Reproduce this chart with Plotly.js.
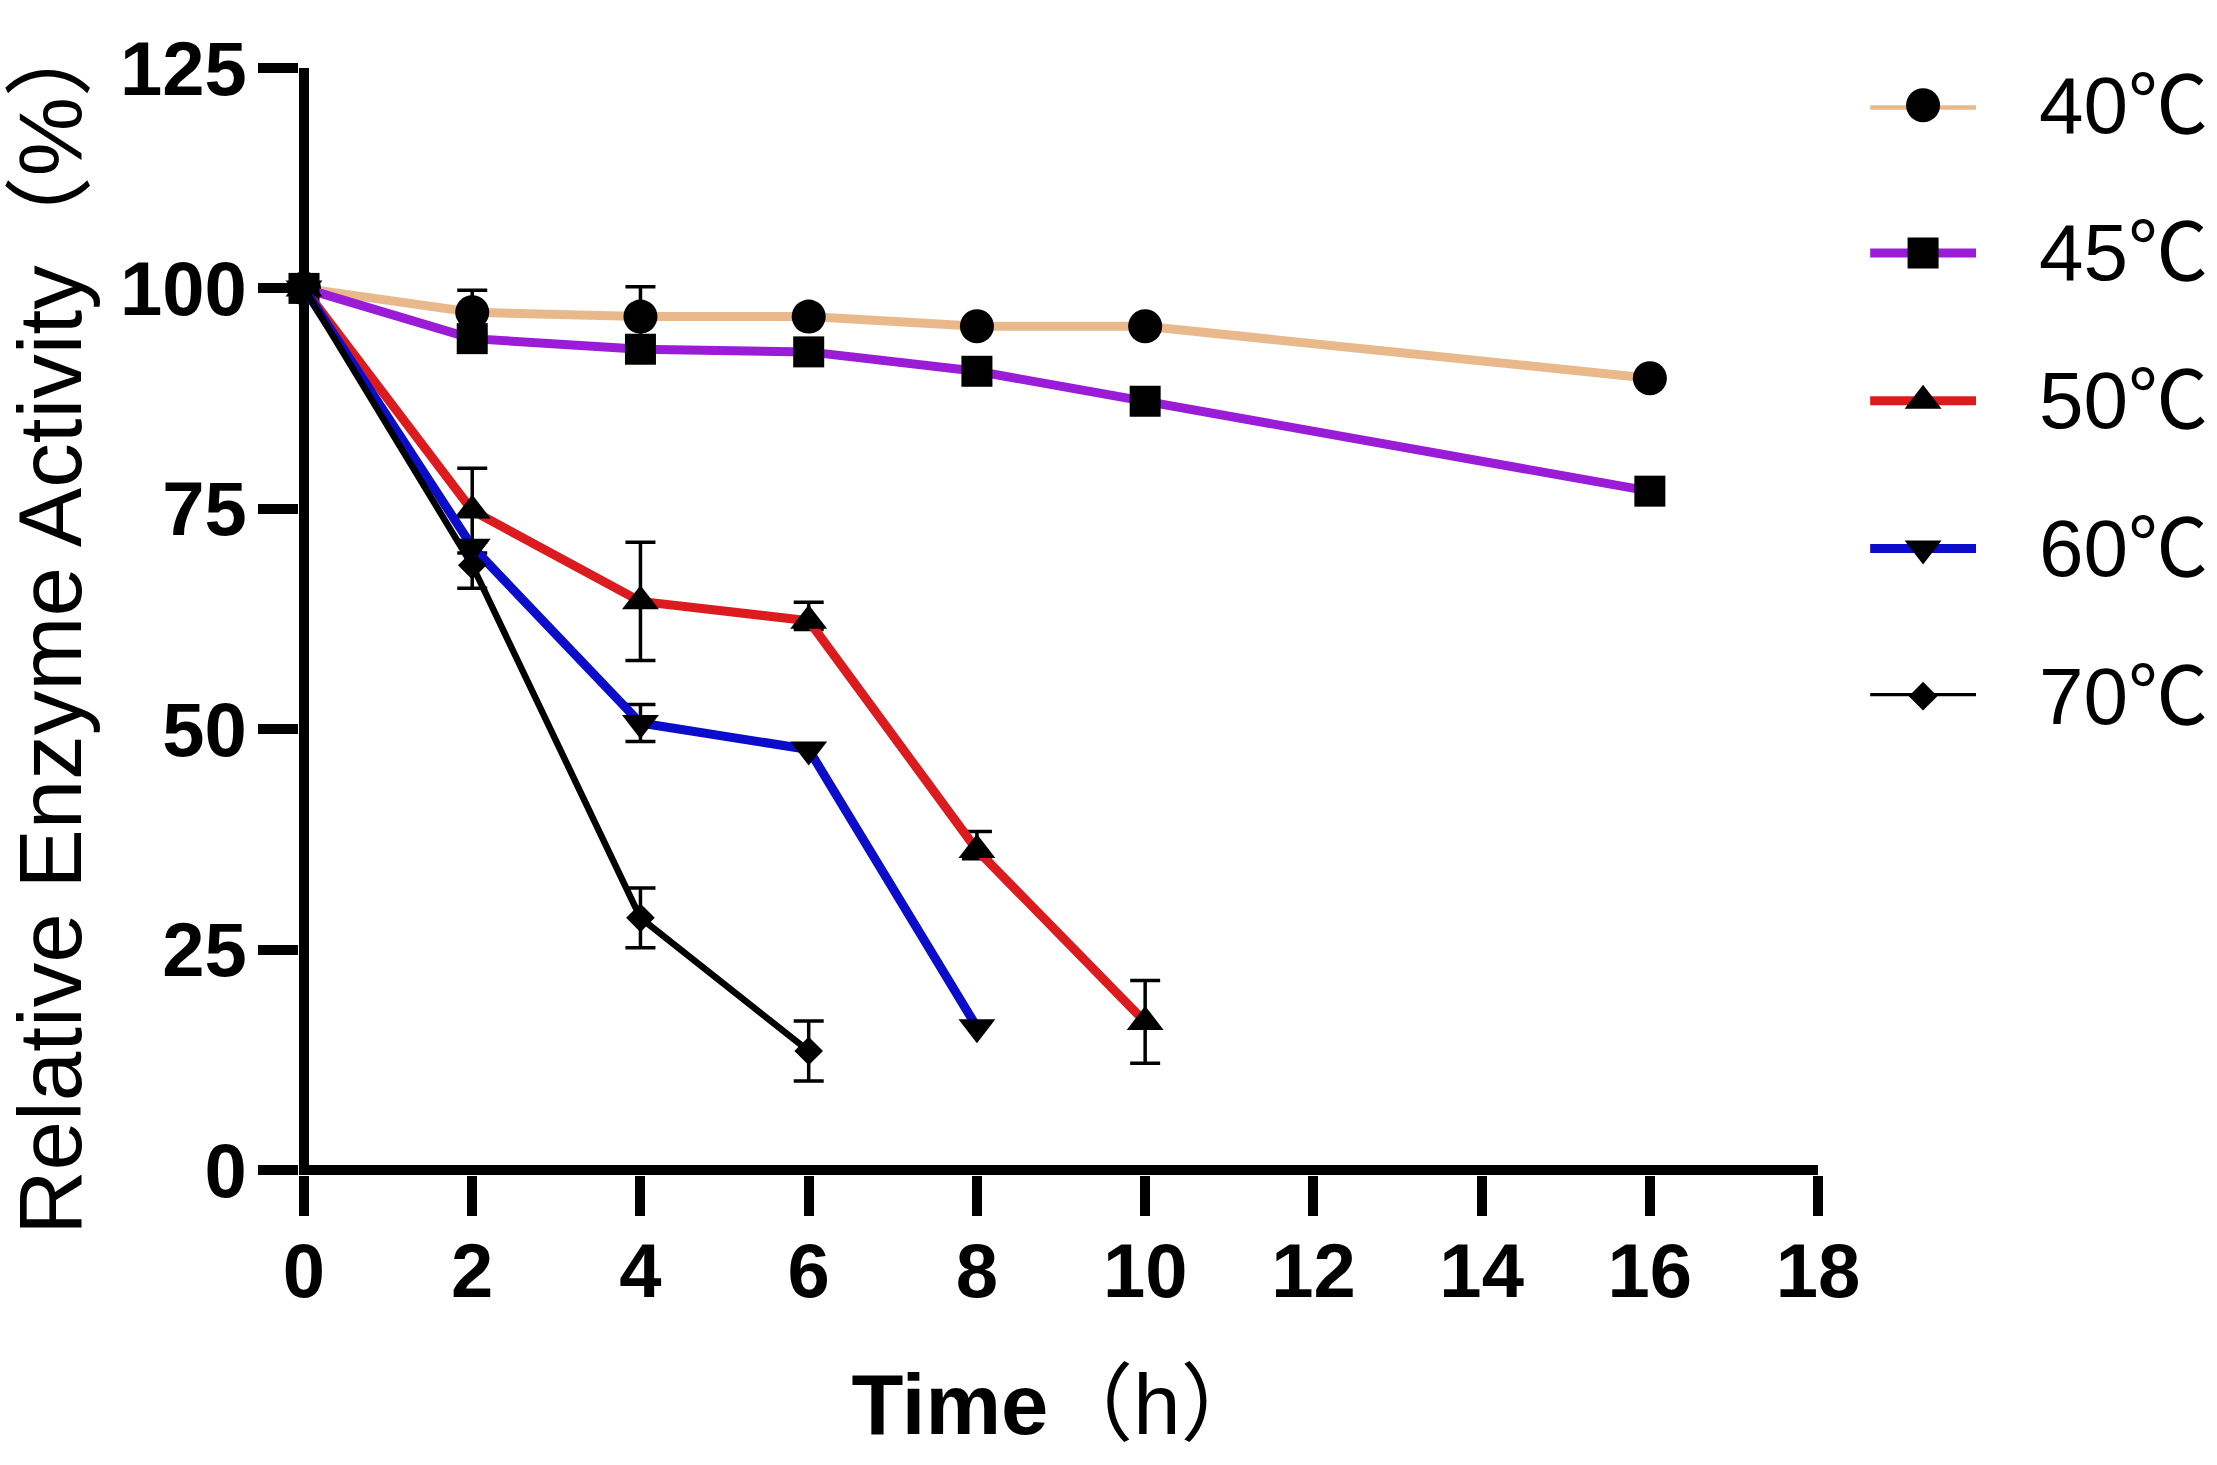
<!DOCTYPE html>
<html>
<head>
<meta charset="utf-8">
<script src="https://cdn.plot.ly/plotly-3.0.1.min.js"></script>
<style>html,body{margin:0;padding:0;background:#ffffff;}</style>
</head>
<body>
<div id="chart" style="width:2217px;height:1465px;"></div>
<script>
// ---------------- data ----------------
const seriesNames = ['40℃', '45℃', '50℃', '60℃', '70℃'];

const time40 = [0, 2, 4, 6, 8, 10, 16];
const act40  = [100, 97.3, 96.8, 96.8, 95.7, 95.7, 89.8];
const errUp40   = [NaN, 2.5, 3.4, NaN, NaN, NaN, NaN];
const errDown40 = [NaN, 2.5, 3.4, NaN, NaN, NaN, NaN];

const time45 = [0, 2, 4, 6, 8, 10, 16];
const act45  = [100, 94.3, 93.1, 92.8, 90.6, 87.2, 77.0];
const errUp45   = [NaN, NaN, NaN, NaN, NaN, NaN, NaN];
const errDown45 = [NaN, NaN, NaN, NaN, NaN, NaN, NaN];

const time50 = [0, 2, 4, 6, 8, 10];
const act50  = [100, 74.8, 64.5, 62.3, 36.3, 16.8];
const errUp50   = [NaN, 4.8, 6.7, 2.1, 2.1, 4.7];
const errDown50 = [NaN, 4.8, 6.7, 1.0, 1.0, 4.7];

const time60 = [0, 2, 4, 6, 8];
const act60  = [100, 70.7, 50.7, 47.7, 16.2];
const errUp60   = [NaN, NaN, 2.1, NaN, NaN];
const errDown60 = [NaN, NaN, 2.1, NaN, NaN];

const time70 = [0, 2, 4, 6];
const act70  = [100, 68.6, 28.6, 13.5];
const errUp70   = [NaN, 2.6, 3.4, 3.4];
const errDown70 = [NaN, 2.6, 3.4, 3.4];

const xTickVals = [0, 2, 4, 6, 8, 10, 12, 14, 16, 18];
const yTickVals = [0, 25, 50, 75, 100, 125];

// ---------------- styles ----------------
const lineColors = ['#E9B98C', '#9B1CD6', '#DC1B1F', '#0C0CCB', '#000000'];
const lineWidths = [9, 9, 9, 9, 6.5];
const symbols    = ['circle', 'square', 'triangle-up', 'triangle-down', 'diamond'];
const symSizes   = [34, 31, 32, 32, 22];

const FONT = '"Liberation Sans", Arial, "Noto Sans CJK SC", sans-serif';

const times = [time40, time45, time50, time60, time70];
const acts  = [act40, act45, act50, act60, act70];
const ups   = [errUp40, errUp45, errUp50, errUp60, errUp70];
const downs = [errDown40, errDown45, errDown50, errDown60, errDown70];

const traces = [];
seriesNames.forEach((name, i) => {
  traces.push({
    type: 'scatter', mode: 'lines+markers', name: name,
    x: times[i], y: acts[i],
    line: {color: lineColors[i], width: lineWidths[i]},
    marker: {symbol: symbols[i], size: symSizes[i], color: '#000000', opacity: 1, line: {width: 0}},
    error_y: {type: 'data', symmetric: false, array: ups[i], arrayminus: downs[i],
              visible: true, color: '#000000', thickness: 3.5, width: 15},
    cliponaxis: false, showlegend: false, hoverinfo: 'x+y'
  });
});

// legend keys drawn on an auxiliary (hidden) axis pair: one row per series
const legendRows = seriesNames.map((_, i) => i);
seriesNames.forEach((name, i) => {
  traces.push({
    type: 'scatter', mode: 'lines', xaxis: 'x2', yaxis: 'y2',
    x: [-1, 1], y: [legendRows[i], legendRows[i]],
    line: {color: lineColors[i], width: lineWidths[i]},
    cliponaxis: false, showlegend: false, hoverinfo: 'skip'
  });
  traces.push({
    type: 'scatter', mode: 'markers', xaxis: 'x2', yaxis: 'y2',
    x: [0], y: [legendRows[i]],
    marker: {symbol: symbols[i], size: symSizes[i], color: '#000000', opacity: 1, line: {width: 0}},
    cliponaxis: false, showlegend: false, hoverinfo: 'skip'
  });
});

const annotations = seriesNames.map((name, i) => ({
  xref: 'paper', yref: 'y2', x: 0.90618, y: legendRows[i],
  xanchor: 'left', yanchor: 'middle', showarrow: false,
  text: name, font: {family: FONT, size: 80, color: '#000000'}
}));

const layout = {
  width: 2217, height: 1465,
  paper_bgcolor: '#ffffff', plot_bgcolor: '#ffffff',
  margin: {l: 298.5, r: 0, t: 67.7, b: 290, pad: 0},
  showlegend: false,
  xaxis: {
    domain: [0, 0.79202], range: [-0.0594, 18],
    tickvals: xTickVals, ticktext: xTickVals.map(String),
    ticks: 'outside', ticklen: 40, tickwidth: 10, tickcolor: '#000000',
    ticklabelstandoff: -10,
    showline: false, showgrid: false,
    zeroline: true, zerolinewidth: 10, zerolinecolor: '#000000',
    tickfont: {family: FONT, size: 76, color: '#000000', weight: 'bold'},
    title: {text: '<b>Time</b>（h）', font: {family: FONT, size: 85, color: '#000000'}, standoff: 62},
    automargin: false, fixedrange: true
  },
  yaxis: {
    range: [-0.567, 125],
    tickvals: yTickVals, ticktext: yTickVals.map(String),
    ticks: 'outside', ticklen: 40, tickwidth: 10, tickcolor: '#000000',
    ticklabelstandoff: -4,
    showline: false, showgrid: false,
    zeroline: true, zerolinewidth: 10, zerolinecolor: '#000000',
    tickfont: {family: FONT, size: 76, color: '#000000', weight: 'bold'},
    title: {text: '\u00A0\u00A0\u00A0Relative Enzyme Activity（%）', font: {family: FONT, size: 89, color: '#000000'}, standoff: 24},
    automargin: false, fixedrange: true
  },
  xaxis2: {domain: [0.81913, 0.87438], range: [-1, 1], anchor: 'y2', visible: false, fixedrange: true},
  yaxis2: {domain: [0.43258, 0.96632], range: [4, 0], anchor: 'x2', visible: false, fixedrange: true},
  annotations: annotations
};

Plotly.newPlot('chart', traces, layout, {displayModeBar: false, staticPlot: true});
</script>
</body>
</html>
